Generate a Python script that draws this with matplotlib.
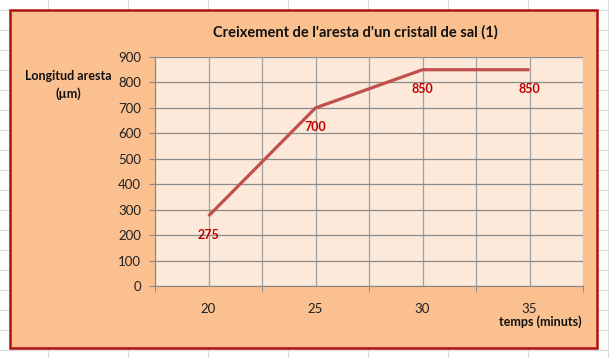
import matplotlib.pyplot as plt
from matplotlib.patches import Rectangle
from matplotlib.lines import Line2D
import numpy as np

plt.rcParams['font.family'] = ['Lato', 'DejaVu Sans']

temps = ['20', '25', '30', '35']
longitud = [275, 700, 850, 850]
y_ticks = list(range(0, 1000, 100))

W, H = 609, 358
fig = plt.figure(figsize=(W / 100, H / 100), dpi=100)
fig.patch.set_facecolor('white')

# spreadsheet grid behind the chart
for xv in range(48, W, 80):
    fig.add_artist(Line2D([xv / W, xv / W], [0, 1], color='#dadada', lw=0.8, zorder=0.1))
for yv in range(10, H, 20):
    fig.add_artist(Line2D([0, 1], [1 - yv / H, 1 - yv / H], color='#dadada', lw=0.8, zorder=0.1))

# chart area
fig.add_artist(Rectangle((10 / W, 1 - 348 / H), 587 / W, 338 / H,
                         facecolor='#FAC090', edgecolor='#B01010', lw=1.8,
                         transform=fig.transFigure, zorder=0.5))

ax = fig.add_axes([155 / W, 1 - 286 / H, 428 / W, 229 / H])
ax.set_zorder(2)
ax.set_facecolor('#FDE9D9')
x = np.arange(len(temps))
ax.plot(x, longitud, color='#C0504D', lw=2.3, solid_capstyle='butt', zorder=3)
for xi, yi in zip(x, longitud):
    ax.annotate(str(yi), (xi, yi), xytext=(0, -14), textcoords='offset points',
                ha='center', va='center', fontsize=9, fontweight='bold', color='#C00000')

ax.set_xlim(-0.5, len(temps) - 0.5)
ax.set_ylim(0, 900)
ax.set_yticks(y_ticks)
ax.set_xticks(x)
ax.set_xticklabels(temps)
ax.set_xticks(np.arange(-0.5, len(temps)), minor=True)
ax.tick_params(axis='x', which='major', length=0, pad=12, labelsize=9.5, colors='#222222')
ax.tick_params(axis='x', which='minor', length=4, color='#868686')
ax.tick_params(axis='y', length=4, color='#868686', labelsize=9.5, labelcolor='#222222', pad=6)

ax.grid(True, which='both', axis='x', color='#a0a0a0', lw=0.9)
ax.grid(True, which='major', axis='y', color='#8c8c8c', lw=0.9)
ax.set_axisbelow(True)
for s in ['top', 'right']:
    ax.spines[s].set_visible(False)
for s in ['left', 'bottom']:
    ax.spines[s].set_color('#868686')

fig.text(355 / W, 1 - 32 / H, "Creixement de l'aresta d'un cristall de sal (1)",
         ha='center', va='center', fontsize=10.5, fontweight='bold', color='#111111')
fig.text(68 / W, 1 - 85 / H, 'Longitud aresta\n(\u00b5m)', ha='center', va='center',
         fontsize=9, fontweight='bold', color='#111111', linespacing=1.5)
fig.text(540 / W, 1 - 322 / H, 'temps (minuts)', ha='center', va='center',
         fontsize=9, fontweight='bold', color='#111111')

fig.savefig('out.png', dpi=100, facecolor=fig.get_facecolor())
